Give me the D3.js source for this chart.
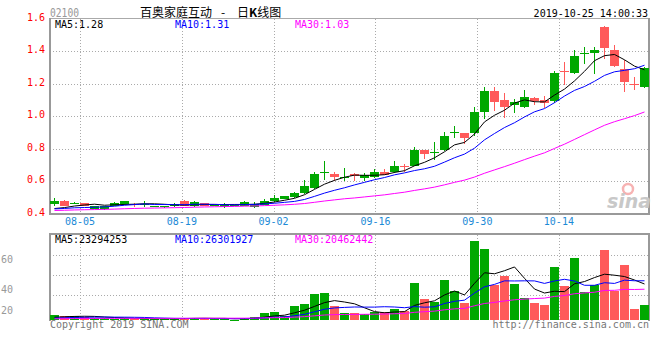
<!DOCTYPE html>
<html>
<head>
<meta charset="utf-8">
<script src="https://cdn.jsdelivr.net/npm/d3@7"></script>
<style>
body { margin: 0; background: #fff; }
text { font-family: "DejaVu Sans Mono", monospace; }
</style>
</head>
<body>
<svg id="chart"></svg>
<script>
// trading days shown (HK market)
const dates = ["07-31","08-01","08-02","08-05","08-06","08-07","08-08","08-09","08-12","08-13",
    "08-14","08-15","08-16","08-19","08-20","08-21","08-22","08-23","08-26","08-27",
    "08-28","08-29","09-02","09-03","09-04","09-05","09-06","09-09","09-10","09-11",
    "09-12","09-13","09-16","09-17","09-18","09-19","09-20","09-23","09-24","09-25",
    "09-26","09-27","09-30","10-02","10-03","10-04","10-08","10-09","10-10","10-11",
    "10-14","10-15","10-16","10-17","10-18","10-21","10-22","10-23","10-24","10-25"];

const opens = [0.460,0.480,0.462,0.463,0.427,0.425,0.449,0.457,0.460,0.455,
    0.443,0.437,0.445,0.480,0.449,0.463,0.451,0.439,0.450,0.449,
    0.438,0.453,0.474,0.492,0.500,0.525,0.558,0.653,0.644,0.621,
    0.644,0.620,0.623,0.658,0.654,0.691,0.695,0.788,0.775,0.788,
    0.895,0.894,0.894,1.023,1.152,1.100,1.069,1.054,1.110,1.100,
    1.090,1.276,1.266,1.386,1.386,1.546,1.407,1.290,1.200,1.180];
const highs = [0.494,0.482,0.472,0.466,0.447,0.449,0.468,0.480,0.463,0.476,
    0.449,0.449,0.466,0.482,0.476,0.466,0.455,0.466,0.451,0.474,
    0.470,0.492,0.515,0.505,0.531,0.608,0.658,0.726,0.658,0.679,
    0.648,0.650,0.675,0.674,0.726,0.705,0.808,0.792,0.840,0.900,
    0.940,0.897,1.058,1.180,1.180,1.140,1.105,1.160,1.120,1.125,
    1.275,1.330,1.407,1.424,1.424,1.553,1.440,1.345,1.243,1.300];
const lows = [0.449,0.447,0.456,0.445,0.425,0.423,0.445,0.454,0.439,0.439,
    0.437,0.434,0.443,0.447,0.441,0.447,0.449,0.434,0.449,0.447,
    0.436,0.451,0.472,0.490,0.498,0.523,0.553,0.607,0.597,0.603,
    0.600,0.597,0.620,0.638,0.650,0.654,0.690,0.736,0.730,0.785,
    0.863,0.829,0.880,0.980,1.030,0.990,1.020,1.050,1.069,1.050,
    1.077,1.190,1.260,1.320,1.260,1.350,1.300,1.146,1.163,1.175];
const closes = [0.480,0.449,0.466,0.447,0.445,0.447,0.463,0.476,0.456,0.458,
    0.445,0.449,0.457,0.449,0.470,0.449,0.453,0.455,0.451,0.470,
    0.456,0.480,0.497,0.505,0.529,0.567,0.644,0.657,0.623,0.625,
    0.632,0.638,0.658,0.640,0.695,0.687,0.788,0.765,0.779,0.880,
    0.900,0.863,1.023,1.152,1.085,1.054,1.085,1.120,1.095,1.080,
    1.263,1.270,1.372,1.390,1.407,1.417,1.307,1.208,1.196,1.295];
// closes before the window, only feed the moving averages
const histClose = [0.405,0.410,0.408,0.412,0.415,0.410,0.408,0.405,0.410,0.415,
    0.418,0.420,0.415,0.412,0.410,0.415,0.420,0.425,0.422,0.418,
    0.420,0.425,0.430,0.428,0.425,0.420,0.418,0.415,0.420];

// volume, millions of shares
const volumes = [3.3,2.7,2.7,2.0,1.3,1.3,1.0,1.3,0.7,0.7,
    0.6,1.0,1.0,1.5,1.3,1.0,0.6,1.0,0.3,1.3,
    2.0,4.7,5.3,2.7,9.3,10.7,17.3,18.0,9.3,4.7,
    4.7,4.0,5.3,5.3,7.3,6.0,24.7,14.0,12.0,26.7,
    19.3,11.5,52.7,47.3,23.3,29.5,24.0,14.9,11.5,10.0,
    35.5,22.7,41.1,18.9,23.3,46.7,19.3,36.7,7.3,10.0];
const histVol = [0.5,0.6,0.4,0.7,0.5,0.6,0.8,0.5,0.4,0.6,
    0.7,0.5,0.6,0.5,0.4,0.6,0.7,0.5,0.6,0.8,
    0.5,0.6,0.7,0.9,0.8,1.2,1.5,1.4,1.8];

const priceTicks = [0.4, 0.6, 0.8, 1.0, 1.2, 1.4, 1.6];
const gridDates = ["08-05", "08-19", "09-02", "09-16", "09-30", "10-14"];
const volTicks = [20, 40, 60];
const priceMaLabels = ["MA5:1.28", "MA10:1.31", "MA30:1.03"];
const volMaLabels = ["MA5:23294253", "MA10:26301927", "MA30:20462442"];
const maColors = ["#000000", "#0000ff", "#ff00ff"];
const maPeriods = [5, 10, 30];

const UP = "#00a800", DOWN = "#ff5a5a";

function movingAvg(hist, vals, n) {
    const all = hist.concat(vals);
    return vals.map((v, i) => d3.mean(all.slice(i + hist.length - n + 1, i + hist.length + 1)));
}

class KLineChart {
    constructor(svg, width = 660, height = 360) {
        this.svg = d3.select(svg).attr("width", width).attr("height", height);
        this.left = 50;
        this.right = 649;
    }

    initialize() {
        this.x = d3.scaleBand().domain(dates).range([50, 650]);
        // date grid runs on a slightly wider spacing than the candles
        this.xGrid = d3.scaleLinear().domain([0, dates.length - 1]).range([49.4, 650.6]);
        this.y = d3.scaleLinear().domain([0.4, 1.6]).range([213.5, 18.5]);
        this.yVol = d3.scaleLinear().domain([0, 56]).range([320, 236]);
        this.yVolLabel = d3.scaleLinear().domain(volTicks).range([314, 293, 263]);
        this.yVolGrid = d3.scaleLinear().domain([0, 4]).range([315, 235]);
    }

    drawFrame() {
        const svg = this.svg, L = this.left, R = this.right;
        const dotted = sel => sel.attr("stroke", "#aaa").attr("stroke-dasharray", "1,2")
            .attr("shape-rendering", "crispEdges");

        // horizontal price grid
        svg.append("g").selectAll("line").data(priceTicks.slice(1, -1)).join("line")
            .attr("x1", L).attr("x2", R)
            .attr("y1", d => Math.round(this.y(d)) + 0.5).attr("y2", d => Math.round(this.y(d)) + 0.5)
            .call(dotted);
        // volume grid
        svg.append("g").selectAll("line").data([1, 2, 3]).join("line")
            .attr("x1", L).attr("x2", R)
            .attr("y1", d => this.yVolGrid(d) + 0.5).attr("y2", d => this.yVolGrid(d) + 0.5)
            .call(dotted);
        // vertical date grid in both panels
        const gx = d => Math.round(this.xGrid(dates.indexOf(d))) + 0.5;
        svg.append("g").selectAll("line").data(gridDates).join("line")
            .attr("x1", gx).attr("x2", gx).attr("y1", 19).attr("y2", 213).call(dotted);
        svg.append("g").selectAll("line").data(gridDates).join("line")
            .attr("x1", gx).attr("x2", gx).attr("y1", 235).attr("y2", 320).call(dotted);

        // panel borders
        const border = svg.append("g").attr("stroke", "#999").attr("fill", "none")
            .attr("shape-rendering", "crispEdges");
        border.append("line").attr("x1", L).attr("x2", R + 1).attr("y1", 18.5).attr("y2", 18.5).attr("stroke", "#aaa");
        border.append("line").attr("x1", L).attr("x2", R + 1).attr("y1", 213.5).attr("y2", 213.5).attr("stroke-width", 2);
        border.append("line").attr("x1", L).attr("x2", L).attr("y1", 18).attr("y2", 214.5).attr("stroke-width", 2);
        border.append("line").attr("x1", R).attr("x2", R).attr("y1", 18).attr("y2", 214.5).attr("stroke-width", 2);
        border.append("line").attr("x1", L).attr("x2", R + 1).attr("y1", 234).attr("y2", 234).attr("stroke-width", 2);
        border.append("line").attr("x1", L).attr("x2", L).attr("y1", 233).attr("y2", 321).attr("stroke-width", 2);
        border.append("line").attr("x1", R).attr("x2", R).attr("y1", 233).attr("y2", 321).attr("stroke-width", 2);
    }

    drawLabels() {
        const svg = this.svg;
        svg.append("g").selectAll("text").data(priceTicks).join("text")
            .attr("x", 45).attr("y", d => this.y(d) + 2)
            .attr("text-anchor", "end").attr("font-size", 10).attr("fill", "#ff0000")
            .text(d => d.toFixed(1));

        svg.append("g").selectAll("text").data(gridDates).join("text")
            .attr("x", d => this.xGrid(dates.indexOf(d))).attr("y", 225)
            .attr("text-anchor", "middle").attr("font-size", 10).attr("fill", "#1c8ad6")
            .text(d => d);

        svg.append("g").selectAll("text").data(volTicks).join("text")
            .attr("x", 1).attr("y", d => this.yVolLabel(d))
            .attr("font-size", 10).attr("fill", "#999")
            .text(d => d);

        svg.append("text").attr("x", 50).attr("y", 17).attr("font-size", 12)
            .attr("fill", "#999").attr("textLength", 29).attr("lengthAdjust", "spacingAndGlyphs")
            .text("02100");
        const cjk = "'Noto Sans CJK SC', sans-serif";
        svg.append("text").attr("x", 140).attr("y", 16.5).attr("font-size", 12)
            .style("font-family", cjk).attr("fill", "#000").text("百奥家庭互动");
        svg.append("text").attr("x", 221).attr("y", 16.5).attr("font-size", 12)
            .style("font-family", cjk).attr("fill", "#000").text("-");
        const title = svg.append("text").attr("x", 237).attr("y", 16.5).attr("font-size", 12)
            .style("font-family", cjk).attr("fill", "#000");
        title.append("tspan").text("日");
        title.append("tspan").attr("font-weight", "bold").text("K");
        title.append("tspan").text("线图");
        svg.append("text").attr("x", 648).attr("y", 17).attr("text-anchor", "end")
            .attr("font-size", 10).attr("fill", "#000").text("2019-10-25 14:00:33");

        const maX = [55, 175, 295];
        svg.append("g").selectAll("text").data(priceMaLabels).join("text")
            .attr("x", (d, i) => maX[i]).attr("y", 27.5).attr("font-size", 10)
            .attr("fill", (d, i) => maColors[i]).text(d => d);
        svg.append("g").selectAll("text").data(volMaLabels).join("text")
            .attr("x", (d, i) => maX[i]).attr("y", 242.5).attr("font-size", 10)
            .attr("fill", (d, i) => maColors[i]).text(d => d);

        svg.append("text").attr("x", 50).attr("y", 327.5).attr("font-size", 10)
            .attr("fill", "#777").text("Copyright 2019 SINA.COM");
        svg.append("text").attr("x", 649).attr("y", 327.5).attr("text-anchor", "end")
            .attr("font-size", 10).attr("fill", "#777").text("http://finance.sina.com.cn");

        // sina watermark
        const logo = svg.append("g");
        logo.append("circle").attr("cx", 628).attr("cy", 189).attr("r", 5)
            .attr("fill", "none").attr("stroke", "#f7b3b3").attr("stroke-width", 2.5);
        logo.append("text").attr("x", 607).attr("y", 208).attr("font-size", 19)
            .attr("font-style", "italic").attr("font-weight", "bold")
            .style("font-family", "'DejaVu Sans', sans-serif").attr("fill", "#c8c8c8").text("sina");
    }

    update() {
        const svg = this.svg;
        const data = dates.map((d, i) => ({
            date: d, open: opens[i], high: highs[i], low: lows[i], close: closes[i], vol: volumes[i]
        }));
        const color = d => d.close >= d.open ? UP : DOWN;
        const bx = d => Math.round(this.x(d.date));

        const candles = svg.append("g").attr("shape-rendering", "crispEdges");
        candles.selectAll(".wick").data(data).join("rect")
            .attr("class", "wick")
            .attr("x", d => bx(d) + 4).attr("width", 1)
            .attr("y", d => Math.round(this.y(d.high)))
            .attr("height", d => Math.max(1, Math.round(this.y(d.low)) - Math.round(this.y(d.high))))
            .attr("fill", color);
        candles.selectAll(".body").data(data).join("rect")
            .attr("class", "body")
            .attr("x", bx).attr("width", 9)
            .attr("y", d => Math.round(this.y(Math.max(d.open, d.close))))
            .attr("height", d => Math.max(1, Math.round(this.y(Math.min(d.open, d.close))) - Math.round(this.y(Math.max(d.open, d.close)))))
            .attr("fill", color);

        svg.append("g").attr("shape-rendering", "crispEdges")
            .selectAll("rect").data(data).join("rect")
            .attr("x", bx).attr("width", 9)
            .attr("y", d => Math.round(this.yVol(d.vol)))
            .attr("height", d => Math.max(1, 320 - Math.round(this.yVol(d.vol))))
            .attr("fill", color);

        const cx = i => this.x(dates[i]) + 4.5;
        maPeriods.forEach((n, j) => {
            const ma = movingAvg(histClose, closes, n);
            const line = d3.line().x((d, i) => cx(i)).y(d => this.y(d));
            svg.append("path").datum(ma).attr("d", line)
                .attr("fill", "none").attr("stroke", maColors[j]).attr("stroke-width", 1);

            const vma = movingAvg(histVol, volumes, n);
            const vline = d3.line().x((d, i) => cx(i)).y(d => this.yVol(d));
            svg.append("path").datum(vma).attr("d", vline)
                .attr("fill", "none").attr("stroke", maColors[j]).attr("stroke-width", 1);
        });
    }
}

const chart = new KLineChart("#chart");
chart.initialize();
chart.drawFrame();
chart.drawLabels();
chart.update();
</script>
</body>
</html>
